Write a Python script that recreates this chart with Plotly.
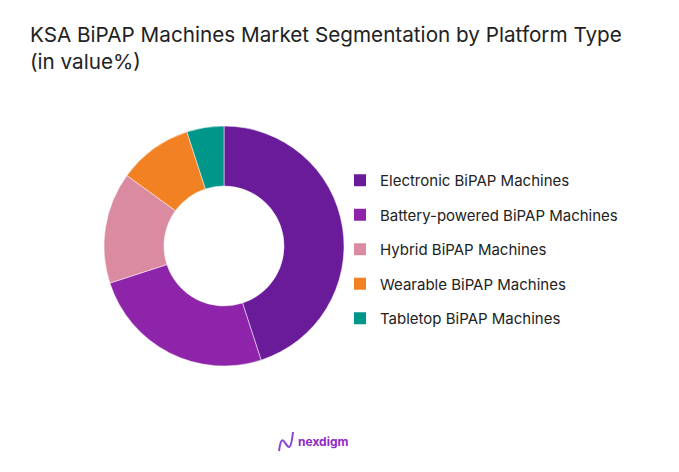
import plotly.graph_objects as go

# Segment shares (value %)
segments = ["Electronic BiPAP Machines", "Battery-powered BiPAP Machines",
            "Hybrid BiPAP Machines", "Wearable BiPAP Machines", "Tabletop BiPAP Machines"]
shares = [45, 25, 15, 10, 5]
colors = ["#6A1B9A", "#8E24AA", "#DB8BA1", "#F28123", "#00968A"]

W, H = 679, 472

fig = go.Figure()

fig.add_trace(go.Pie(
    labels=segments,
    values=shares,
    hole=0.5,
    sort=False,
    direction="clockwise",
    rotation=0,
    marker=dict(colors=colors, line=dict(color="white", width=0.5)),
    textinfo="none",
    hovertemplate="%{label}: %{value}%<extra></extra>",
    showlegend=False,
    domain=dict(x=[104 / W, 344 / W], y=[1 - 366 / H, 1 - 126 / H]),
))

# legend entries (one group each so the gap can be set)
for name, col in zip(segments, colors):
    fig.add_trace(go.Scatter(
        x=[None], y=[None], mode="markers", name=name, legendgroup=name,
        marker=dict(symbol="square", size=16, color=col),
    ))

fig.update_layout(
    width=W, height=H,
    margin=dict(l=0, r=0, t=0, b=0),
    paper_bgcolor="white", plot_bgcolor="white",
    font=dict(family="Inter", color="#222222"),
    title=dict(
        text="KSA BiPAP Machines Market Segmentation by Platform Type<br>(in value%)",
        x=30 / W, xanchor="left", y=1 - 42 / H, yanchor="top",
        font=dict(family="Inter", size=20.7, color="#222222"),
    ),
    xaxis=dict(visible=False), yaxis=dict(visible=False),
    legend=dict(
        x=340 / W, xanchor="left", y=1 - 164 / H, yanchor="top",
        font=dict(family="Inter", size=15, color="#222222"),
        tracegroupgap=12, itemsizing="constant",
        bgcolor="rgba(0,0,0,0)",
    ),
)

# nexdigm logo
fig.add_shape(type="path", xref="paper", yref="paper",
              path=f"M {279/W},{1-451/H} C {283/W},{1-420/H} {289/W},{1-470/H} {293/W},{1-432/H}",
              line=dict(color="#8E44D0", width=2))
fig.add_annotation(text="<b>nexdigm</b>", x=296 / W, y=1 - 441 / H, xref="paper", yref="paper",
                   xanchor="left", yanchor="middle", showarrow=False,
                   font=dict(family="Inter", size=12, color="#8E2BC9"))

fig.write_html("out.html", config={"displayModeBar": False},
               post_script="document.body.style.margin='0px';")
